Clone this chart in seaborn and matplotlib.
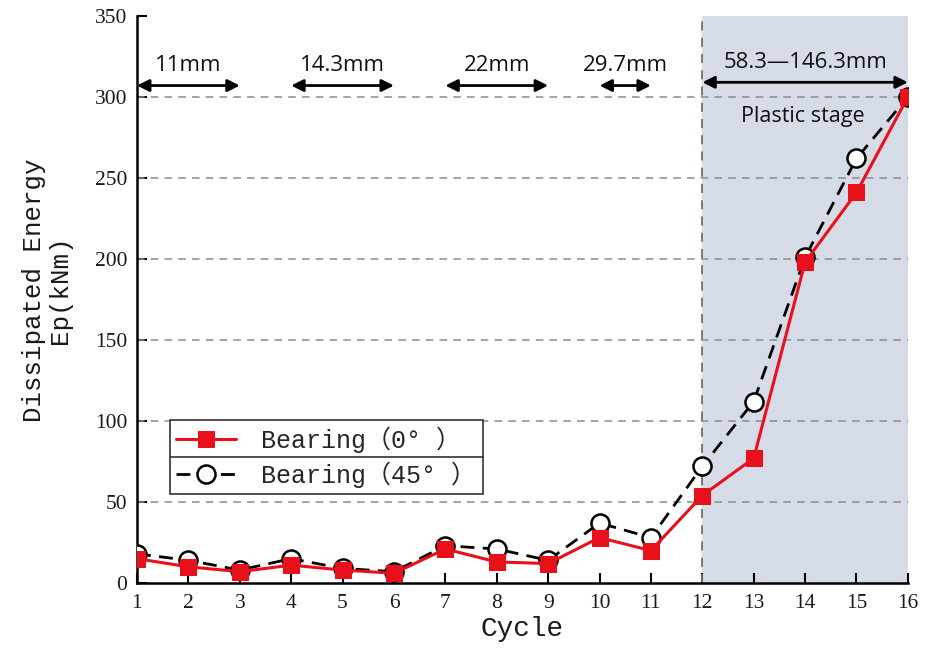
import matplotlib
matplotlib.use("Agg")
import matplotlib.pyplot as plt
import seaborn as sns
import pandas as pd

cycles = list(range(1, 17))
bearing_0 = [15, 10, 7, 11, 8, 6, 21, 13, 12, 28, 20, 54, 77, 198, 241, 300]
bearing_45 = [18, 14, 8, 15, 9, 7, 23, 21, 14, 37, 28, 72, 112, 201, 262, 300]
label_0 = "Bearing（0° ）"
label_45 = "Bearing（45° ）"
y_ticks = [0, 50, 100, 150, 200, 250, 300, 350]
x_ticks = cycles
stage_spans = [(1, 3, "11mm"), (4, 6, "14.3mm"), (7, 9, "22mm"), (10, 11, "29.7mm"), (12, 16, "58.3—146.3mm")]

sns.set_theme(style="white")
plt.rcParams['font.family'] = ['Liberation Serif', 'Noto Sans CJK SC']
mono = ['Liberation Mono', 'Noto Sans CJK SC']
sans = ["Open Sans", "Noto Sans CJK SC", "DejaVu Sans"]

fig = plt.figure(figsize=(9.35, 6.61), dpi=100)
ax = fig.add_axes([0.1465, 0.118, 0.8245, 0.858])

df = pd.DataFrame({"Cycle": cycles, "b0": bearing_0, "b45": bearing_45})

ax.axvspan(12, 16, color="#d5dce8", zorder=0)
for yv in y_ticks[1:-1]:
    ax.axhline(yv, color="#8c8c8c", lw=1.1, ls=(0, (5, 4)), zorder=1)
ax.axvline(12, color="#707070", lw=1.3, ls=(0, (5, 4)), zorder=1)

sns.lineplot(data=df, x="Cycle", y="b45", ax=ax, color="black", lw=2,
             marker="o", markersize=13, markerfacecolor="white",
             markeredgecolor="black", markeredgewidth=1.8,
             dashes=False, linestyle=(0, (5, 3)), label=label_45, zorder=3)
sns.lineplot(data=df, x="Cycle", y="b0", ax=ax, color="#e8101a", lw=2.2,
             marker="s", markersize=12, markerfacecolor="#e8101a",
             markeredgecolor="#e8101a", label=label_0, zorder=4)

ax.set_xlim(1, 16)
ax.set_ylim(0, 350)
ax.set_xticks(x_ticks)
ax.set_yticks(y_ticks)
ax.tick_params(axis="both", direction="in", length=7, width=1.5, color="black",
               labelsize=15.5, labelcolor="#1a1a1a", left=True, bottom=True)
ax.tick_params(axis="x", pad=8)
ax.tick_params(axis="y", pad=7)
for s in ["top", "right"]:
    ax.spines[s].set_visible(False)
for s in ["left", "bottom"]:
    ax.spines[s].set_color("black")
    ax.spines[s].set_linewidth(1.8)

ax.set_xlabel("Cycle", fontsize=20, color="#1a1a1a", labelpad=2, family=mono)
ax.set_ylabel("Dissipated Energy\nEp(kNm)", fontsize=18.6, color="#1a1a1a",
              linespacing=1.12, family=mono)
ax.yaxis.set_label_coords(-0.0843, 0.517)

# stage annotations
for x0, x1, txt in stage_spans:
    yv = 309 if x0 == 12 else 307
    ax.annotate("", xy=(x0, yv), xytext=(x1, yv),
                arrowprops=dict(arrowstyle="<|-|>", color="black", lw=2,
                                mutation_scale=18, shrinkA=0, shrinkB=0),
                annotation_clip=False, zorder=5)
    ax.text((x0 + x1) / 2, yv + 6, txt, ha="center", va="bottom", fontsize=16,
            family=sans, color="#111111")
ax.text(13.96, 288, "Plastic stage", ha="center", va="center", fontsize=15.5,
        family=sans, color="#111111")

handles, labels = ax.get_legend_handles_labels()
order = [labels.index(label_0), labels.index(label_45)]
leg = ax.legend([handles[i] for i in order], [labels[i] for i in order],
                loc="upper left", bbox_to_anchor=(0.043, 0.2875),
                prop={"family": mono, "size": 18},
                frameon=True, fancybox=False, edgecolor="#333333",
                framealpha=1, borderpad=0.25, handlelength=2.4, labelspacing=0.35,
                handletextpad=1.0, borderaxespad=0)
leg.get_frame().set_linewidth(1.2)
fig.canvas.draw()
bb = leg.get_window_extent().transformed(ax.transAxes.inverted())
ymid = (bb.y0 + bb.y1) / 2
ax.plot([bb.x0, bb.x1], [ymid, ymid], transform=ax.transAxes, color="#333333",
        lw=1.2, zorder=10, clip_on=False)

fig.savefig("out.png", dpi=100)
